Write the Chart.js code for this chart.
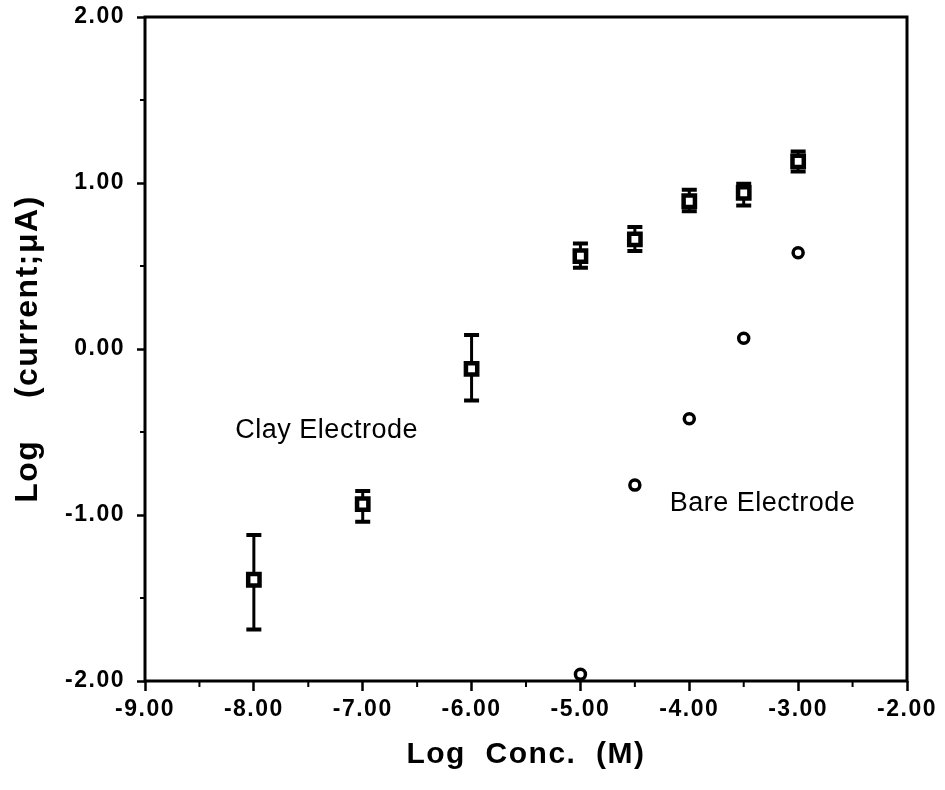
<!DOCTYPE html>
<html>
<head>
<meta charset="utf-8">
<script src="https://cdn.jsdelivr.net/npm/chart.js@4/dist/chart.umd.min.js"></script>
<style>
  html, body { margin: 0; padding: 0; background: #fff; }
  #wrap { width: 945px; height: 790px; }
</style>
</head>
<body>
<div id="wrap"><canvas id="chart"></canvas></div>
<script>
// data
const clayX = [-8, -7, -6, -5, -4.5, -4, -3.5, -3]
const clayY = [-1.39, -0.935, -0.12, 0.56, 0.66, 0.89, 0.94, 1.13]
const clayHigh = [-1.12, -0.855, 0.085, 0.635, 0.735, 0.96, 0.995, 1.19]
const clayLow = [-1.69, -1.04, -0.31, 0.49, 0.59, 0.83, 0.865, 1.07]

const bareX = [-5, -4.5, -4, -3.5, -3]
const bareY = [-1.96, -0.82, -0.42, 0.065, 0.58]

const xMinorTicks = [-8.5, -7.5, -6.5, -5.5, -4.5, -3.5, -2.5]
const yMinorTicks = [1.5, 0.5, -0.5, -1.5]

const labels = [
    { text: "Clay Electrode", x: -8.17, y: -0.49 },
    { text: "Bare Electrode", x: -4.18, y: -0.93 },
]

const FONT = "'Liberation Sans', Arial, sans-serif"

// error bars, frame, minor ticks and text labels
const extras = {
    id: "extras",
    beforeDraw(chart) {
        // the original lettering is widely tracked
        chart.ctx.letterSpacing = "1.5px"
    },
    beforeDatasetsDraw(chart) {
        const ctx = chart.ctx
        const xs = chart.scales.x
        const ys = chart.scales.y
        ctx.save()
        ctx.strokeStyle = "#000"
        clayX.forEach((xv, i) => {
            const px = xs.getPixelForValue(xv)
            const top = ys.getPixelForValue(clayHigh[i])
            const bot = ys.getPixelForValue(clayLow[i])
            ctx.lineWidth = 3
            ctx.beginPath()
            ctx.moveTo(px, top)
            ctx.lineTo(px, bot)
            ctx.stroke()
            ctx.lineWidth = 4
            ctx.beginPath()
            ctx.moveTo(px - 7.5, top)
            ctx.lineTo(px + 7.5, top)
            ctx.moveTo(px - 7.5, bot)
            ctx.lineTo(px + 7.5, bot)
            ctx.stroke()
        })
        ctx.restore()
    },
    afterDraw(chart) {
        const ctx = chart.ctx
        const a = chart.chartArea
        const xs = chart.scales.x
        const ys = chart.scales.y
        ctx.save()
        ctx.strokeStyle = "#000"
        ctx.lineWidth = 3
        ctx.strokeRect(a.left, a.top, a.right - a.left, a.bottom - a.top)

        ctx.lineWidth = 2
        ctx.beginPath()
        xMinorTicks.forEach((v) => {
            const px = xs.getPixelForValue(v)
            ctx.moveTo(px, a.bottom)
            ctx.lineTo(px, a.bottom + 6)
        })
        yMinorTicks.forEach((v) => {
            const py = ys.getPixelForValue(v)
            ctx.moveTo(a.left, py)
            ctx.lineTo(a.left - 5, py)
        })
        ctx.stroke()

        ctx.letterSpacing = "0.5px"
        ctx.fillStyle = "#000"
        ctx.font = "27px " + FONT
        ctx.textBaseline = "middle"
        ctx.textAlign = "left"
        labels.forEach((l) => {
            ctx.fillText(l.text, xs.getPixelForValue(l.x), ys.getPixelForValue(l.y))
        })
        ctx.restore()
    },
}

new Chart(document.getElementById("chart").getContext("2d"), {
    type: "scatter",
    data: {
        datasets: [
            {
                label: "Clay Electrode",
                data: clayX.map((x, i) => ({ x: x, y: clayY[i] })),
                pointStyle: "rect",
                pointRadius: 8,
                pointHoverRadius: 8,
                pointBorderWidth: 4.5,
                pointBackgroundColor: "#fff",
                pointBorderColor: "#000",
                clip: false,
            },
            {
                label: "Bare Electrode",
                data: bareX.map((x, i) => ({ x: x, y: bareY[i] })),
                pointStyle: "circle",
                pointRadius: 5,
                pointHoverRadius: 5,
                pointBorderWidth: 3.5,
                pointBackgroundColor: "#fff",
                pointBorderColor: "#000",
                clip: false,
            },
        ],
    },
    options: {
        responsive: true,
        maintainAspectRatio: false,
        animation: false,
        events: [],
        layout: {
            padding: { top: 17, right: 38, bottom: 0, left: 0 },
        },
        plugins: {
            legend: { display: false },
            tooltip: { enabled: false },
        },
        scales: {
            x: {
                type: "linear",
                min: -9,
                max: -2,
                border: { display: false },
                grid: {
                    drawOnChartArea: false,
                    drawTicks: true,
                    tickLength: 10,
                    tickColor: "#000",
                    tickWidth: 2.5,
                },
                ticks: {
                    stepSize: 1,
                    color: "#000",
                    padding: 5,
                    maxRotation: 0,
                    font: { family: FONT, size: 23, weight: "bold" },
                    callback: (v) => v.toFixed(2),
                },
                title: {
                    display: true,
                    text: "Log  Conc.  (M)",
                    color: "#000",
                    padding: { top: 0, bottom: 17 },
                    font: { family: FONT, size: 30, weight: "bold" },
                },
                afterFit: (scale) => {
                    scale.height = 109
                    scale.paddingLeft = 0
                    scale.paddingRight = 0
                },
            },
            y: {
                type: "linear",
                min: -2,
                max: 2,
                border: { display: false },
                grid: {
                    drawOnChartArea: false,
                    drawTicks: true,
                    tickLength: 8,
                    tickColor: "#000",
                    tickWidth: 2.5,
                },
                ticks: {
                    stepSize: 1,
                    color: "#000",
                    padding: 12,
                    font: { family: FONT, size: 23, weight: "bold" },
                    callback: (v) => v.toFixed(2),
                },
                title: {
                    display: true,
                    text: "Log    (current;\u03bcA)",
                    color: "#000",
                    padding: { top: 9, bottom: 0 },
                    font: { family: FONT, size: 32, weight: "bold" },
                },
                afterFit: (scale) => {
                    scale.width = 145
                    scale.paddingTop = 0
                    scale.paddingBottom = 0
                },
            },
        },
    },
    plugins: [extras],
});
</script>
</body>
</html>
